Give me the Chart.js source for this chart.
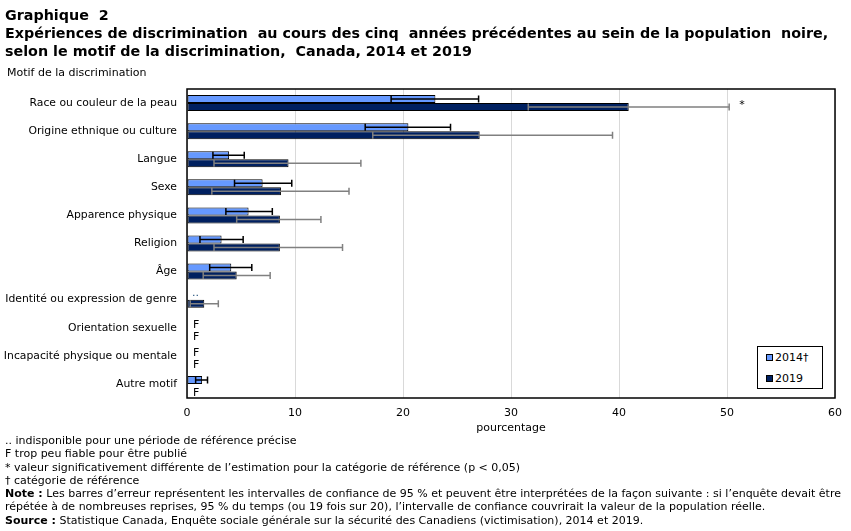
<!DOCTYPE html>
<html><head><meta charset="utf-8">
<script src="https://cdn.jsdelivr.net/npm/chart.js@4"></script>
<style>
html,body{margin:0;padding:0;background:#fff;}
body{width:851px;height:531px;position:relative;overflow:hidden;font-family:"DejaVu Sans",Verdana,sans-serif;color:#000;}
#c{position:absolute;left:0;top:0;}
.title{position:absolute;left:5px;top:6px;font-weight:bold;font-size:14.3px;line-height:18px;white-space:pre;}
.ytitle{position:absolute;left:7px;top:66px;font-size:11px;white-space:pre;}
.notes{position:absolute;left:5px;top:434px;font-size:11px;line-height:13.3px;white-space:pre;}
.legend{position:absolute;left:757px;top:346px;width:64px;height:41px;border:1px solid #000;font-size:11px;background:#fff;}
.li{position:absolute;left:8px;white-space:pre;}
.sw{display:inline-block;width:5px;height:5px;border:1px solid #000;margin-right:2px;vertical-align:0px;}
</style></head>
<body>
<canvas id="c" width="851" height="531"></canvas>
<div class="title">Graphique  2
Expériences de discrimination  au cours des cinq  années précédentes au sein de la population  noire,
selon le motif de la discrimination,  Canada, 2014 et 2019</div>
<div class="ytitle">Motif de la discrimination</div>
<div class="legend">
<div class="li" style="top:4px"><span class="sw" style="background:#6699ff"></span>2014†</div>
<div class="li" style="top:25px"><span class="sw" style="background:#002060"></span>2019</div>
</div>
<div class="notes">.. indisponible pour une période de référence précise
F trop peu fiable pour être publié
* valeur significativement différente de l’estimation pour la catégorie de référence (p &lt; 0,05)
† catégorie de référence
<b>Note :</b> Les barres d’erreur représentent les intervalles de confiance de 95 % et peuvent être interprétées de la façon suivante : si l’enquête devait être
répétée à de nombreuses reprises, 95 % du temps (ou 19 fois sur 20), l’intervalle de confiance couvrirait la valeur de la population réelle.
<b>Source :</b> Statistique Canada, Enquête sociale générale sur la sécurité des Canadiens (victimisation), 2014 et 2019.</div>
<script>
const categories = ["Race ou couleur de la peau","Origine ethnique ou culture","Langue","Sexe","Apparence physique","Religion","Âge","Identité ou expression de genre","Orientation sexuelle","Incapacité physique ou mentale","Autre motif"];
const values2014 = [23.0, 20.5, 3.9, 7.0, 5.7, 3.2, 4.1, null, null, null, 1.4];
const low2014    = [18.9, 16.5, 2.4, 4.4, 3.6, 1.2, 2.1, null, null, null, 0.8];
const high2014   = [27.0, 24.4, 5.3, 9.7, 7.9, 5.2, 6.0, null, null, null, 1.9];
const values2019 = [40.9, 27.1, 9.4, 8.7, 8.6, 8.6, 4.6, 1.6, null, null, null];
const low2019    = [31.6, 17.2, 2.5, 2.3, 4.6, 2.5, 1.5, 0.3, null, null, null];
const high2019   = [50.2, 39.4, 16.1, 15.0, 12.4, 14.4, 7.7, 2.9, null, null, null];
const flags2014  = ["", "", "", "", "", "", "", "..", "F", "F", ""];
const flags2019  = ["*", "", "", "", "", "", "", "", "F", "F", "F"];
const xTicks = [0, 10, 20, 30, 40, 50, 60];

const FONT = "'DejaVu Sans', Verdana, sans-serif";

const extras = {
  id: 'extras',
  afterDatasetsDraw(chart) {
    const ctx = chart.ctx, xs = chart.scales.x;
    const sets = [
      {lo: low2014, hi: high2014, color: '#000000', fl: flags2014, vals: values2014},
      {lo: low2019, hi: high2019, color: '#808080', fl: flags2019, vals: values2019}
    ];
    ctx.save();
    sets.forEach((s, di) => {
      const meta = chart.getDatasetMeta(di);
      meta.data.forEach((bar, j) => {
        const y = bar.y;
        if (s.lo[j] != null) {
          const x1 = xs.getPixelForValue(s.lo[j]), x2 = xs.getPixelForValue(s.hi[j]);
          ctx.strokeStyle = s.color; ctx.lineWidth = 1.5;
          ctx.beginPath();
          ctx.moveTo(x1, y); ctx.lineTo(x2, y);
          ctx.moveTo(x1, y - 3.5); ctx.lineTo(x1, y + 3.5);
          ctx.moveTo(x2, y - 3.5); ctx.lineTo(x2, y + 3.5);
          ctx.stroke();
        }
        const f = s.fl[j];
        if (f) {
          ctx.fillStyle = '#000';
          ctx.font = '11px ' + FONT;
          ctx.textBaseline = 'middle';
          ctx.textAlign = 'left';
          if (f === '*') {
            ctx.fillText('*', xs.getPixelForValue(s.hi[j]) + 10, y - 2);
          } else if (f === '..') {
            ctx.fillStyle = '#1f4e79';
            ctx.fillText('..', xs.getPixelForValue(0) + 5, y - 3);
          } else {
            ctx.fillText('F', xs.getPixelForValue(0) + 6, y + (di === 0 ? 1 : 5));
          }
        }
      });
    });
    const a = chart.chartArea;
    ctx.strokeStyle = '#000'; ctx.lineWidth = 1.5;
    ctx.strokeRect(a.left, a.top, a.right - a.left, a.bottom - a.top);
    ctx.restore();
  }
};

new Chart(document.getElementById('c'), {
  type: 'bar',
  data: {
    labels: categories,
    datasets: [
      {label: '2014†', data: values2014, backgroundColor: '#6699ff', borderColor: '#000', borderWidth: 1, borderSkipped: false, categoryPercentage: 0.57, barPercentage: 1},
      {label: '2019', data: values2019, backgroundColor: '#002060', borderColor: '#000', borderWidth: 1, borderSkipped: false, categoryPercentage: 0.57, barPercentage: 1}
    ]
  },
  options: {
    indexAxis: 'y',
    responsive: false,
    animation: false,
    devicePixelRatio: 1,
    layout: {padding: {top: 89, right: 15, bottom: 96.4, left: 0}},
    plugins: {legend: {display: false}, tooltip: {enabled: false}},
    scales: {
      x: {
        min: 0, max: 60,
        afterBuildTicks: (s) => { s.ticks = xTicks.map(v => ({value: v})); },
        afterFit: (s) => { s.height = 36.6; },
        grid: {color: '#d9d9d9', lineWidth: 1, drawTicks: false},
        border: {display: false},
        ticks: {color: '#000', font: {family: FONT, size: 11}, padding: 9, maxRotation: 0},
        title: {display: true, text: 'pourcentage', color: '#000', font: {family: FONT, size: 11}, padding: 0}
      },
      y: {
        afterFit: (s) => { s.width = 187; },
        grid: {display: false, drawTicks: false},
        border: {display: false},
        ticks: {color: '#000', font: {family: FONT, size: 10.8}, padding: 10}
      }
    }
  },
  plugins: [extras]
});
</script>
</body></html>
